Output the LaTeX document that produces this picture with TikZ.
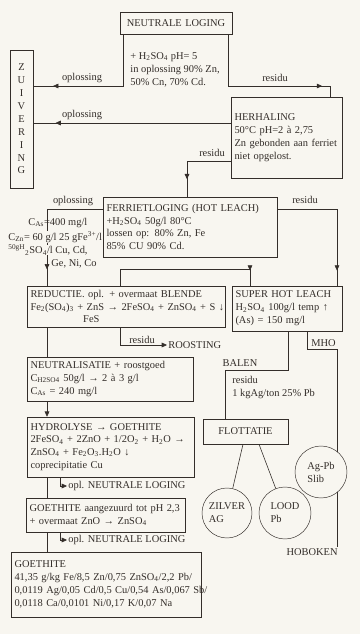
\documentclass[tikz,border=0pt]{standalone}
\usepackage{fontspec}
\setmainfont{Liberation Serif}
\usetikzlibrary{calc,arrows.meta,decorations.markings}
\definecolor{ink}{RGB}{52,46,42}
\definecolor{paper}{RGB}{248,246,240}
\newcommand\dgm{\fontsize{8.9}{11}\selectfont}

\begin{document}
\begin{tikzpicture}[
    x=0.03cm, y=-0.03cm,
    box/.style 2 args={rectangle,draw=ink,text=ink,font=\dgm,
                minimum width=#1*0.03cm,minimum height=#2*0.03cm,
                text width=#1*0.03cm-6pt,inner xsep=3pt,inner ysep=1pt,align=left},
    cbox/.style 2 args={box={#1}{#2},align=center},
    circ/.style={circle,draw=ink,fill=paper,text=ink,font=\dgm,
                minimum size=#1*0.03cm,inner sep=0pt,align=left},
    flow/.style={ink,line width=0.5pt},
    midarr/.style={postaction={decorate},decoration={markings,
                mark=at position #1 with {\arrow{Triangle[length=4.5pt,width=4pt]}}}},
    endarr/.style={-{Triangle[length=4.5pt,width=4pt]}},
    lbl/.style={font=\dgm,text=ink,inner sep=1pt},
  ]
  \fill[paper] (0,0) rectangle (360,634);
  % process boxes
  \node[cbox={112}{22}]  (neut)  at (176,23)      {NEUTRALE LOGING};
  \node[cbox={23}{138}]  (zuiv)  at (21.5,119)    {Z\\U\\I\\V\\E\\R\\I\\N\\G};
  \node[box={111}{81}]   (herh)  at (286.5,137.5) {HERHALING\\50°C pH=2 à 2,75\\\mbox{Zn gebonden aan ferriet}\\niet opgelost.};
  \node[box={174}{60}]   (ferr)  at (190,227)     {\mbox{FERRIETLOGING (HOT LEACH)}\\+H\textsubscript{2}SO\textsubscript{4} 50g/l 80°C\\lossen op: 80\% Zn, Fe\\85\% CU 90\% Cd.};
  \node[box={198}{41}]   (red)   at (126,306.5)   {\mbox{REDUCTIE. opl. + overmaat BLENDE}\\\mbox{Fe\textsubscript{2}(SO\textsubscript{4})\textsubscript{3} + ZnS → 2FeSO\textsubscript{4} + ZnSO\textsubscript{4} + S ↓}\\\hspace*{45pt}FeS};
  \node[box={110}{45}]   (shl)   at (287,308.5)   {\mbox{SUPER HOT LEACH}\\H\textsubscript{2}SO\textsubscript{4} 100g/l temp ↑\\(As) = 150 mg/l};
  \node[box={166}{44}]   (neutr) at (110,379)     {NEUTRALISATIE + roostgoed\\C\textsubscript{H2SO4} 50g/l → 2 à 3 g/l\\C\textsubscript{As} = 240 mg/l};
  \node[box={167}{60}]   (hydr)  at (110.5,447)   {HYDROLYSE → GOETHITE\\\mbox{2FeSO\textsubscript{4} + 2ZnO + 1/2O\textsubscript{2} + H\textsubscript{2}O →}\\ZnSO\textsubscript{4} + Fe\textsubscript{2}O\textsubscript{3}.H\textsubscript{2}O ↓\\coprecipitatie Cu};
  \node[box={159}{34}]   (goe1)  at (105.5,515)   {\mbox{GOETHITE aangezuurd tot pH 2,3}\\+ overmaat ZnO → ZnSO\textsubscript{4}};
  \node[box={190}{65}]   (goe2)  at (106,584.5)   {GOETHITE\\\mbox{41,35 g/kg Fe/8,5 Zn/0,75 ZnSO\textsubscript{4}/2,2 Pb/}\\\mbox{0,0119 Ag/0,05 Cd/0,5 Cu/0,54 As/0,067 Sb/}\\\mbox{0,0118 Ca/0,0101 Ni/0,17 K/0,07 Na}};
  \node[cbox={85}{25}]   (flot)  at (245.5,431.5) {FLOTTATIE};
  \node[circ=50]         (zilv)  at (227,513)     {ZILVER\\AG};
  \node[circ=52]         (lood)  at (285,513)     {LOOD\\Pb};
  % end points
  \node[lbl,anchor=west]       (roost) at (167,345) {ROOSTING};
  \node[lbl,anchor=west]       (opl1)  at (67,486)  {opl. NEUTRALE LOGING};
  \node[lbl,anchor=west]       (opl2)  at (67,540)  {opl. NEUTRALE LOGING};
  \node[lbl,anchor=north east] (hob)   at (339,547) {HOBOKEN};
  % flows
  \draw[flow,midarr=-17pt] ($(neut.south west)+(4,0)$) |- (zuiv.east |- 0,86);
  \draw[flow,midarr=-16pt] ($(neut.south east)+(-4,0)$) |- (330,86) -- (herh.north -| 330,0);
  \draw[flow,midarr=-19pt] (herh.west |- 0,123) -- (zuiv.east |- 0,123);
  \draw[flow,midarr=-15pt] (herh.west |- 0,161) -| (ferr.north -| 187,0);
  \draw[flow,midarr=-14pt] (ferr.west |- 0,209) -| (red.north -| 47,0);
  \draw[flow,midarr=-13pt] (ferr.east |- 0,209) -| (shl.north -| 337,0);
  \draw[flow,midarr=-13pt] (red.north -| 120,0) |- (250,269) -- (shl.north -| 250,0);
  \draw[flow]        (red.south -| 47,0)   -- (neutr.north -| 47,0);
  \draw[flow,endarr] (neutr.south -| 47,0) -- (hydr.north -| 47,0);
  \draw[flow]        (hydr.south -| 47,0)  -- (goe1.north -| 47,0);
  \draw[flow]        (goe1.south -| 47,0)  -- (goe2.north -| 47,0);
  \draw[flow,endarr] (red.south -| 120,0) |- (roost.west);
  \draw[flow,endarr] (hydr.south -| 60,0) |- (opl1.west);
  \draw[flow,endarr] (goe1.south -| 60,0) |- (opl2.west);
  \draw[flow] (shl.south -| 288,0) |- (225,370) -- (flot.north -| 225,0);
  \draw[flow] (shl.south -| 307,0) |- (337,349) -- (hob.north -| 337,0);
  \draw[flow] (flot.south -| 243,0) -- (zilv);
  \draw[flow] (flot.south -| 259,0) -- (lood);
  \node[circ=52] (slib) at (321,472) {Ag-Pb\\Slib};
  % labels
  \node[lbl] (lopl1) at (82,78)  {oplossing};
  \node[lbl,anchor=west,align=left] (lzuur) at (129,70)
        {+ H\textsubscript{2}SO\textsubscript{4} pH= 5\\in oplossing 90\% Zn,\\50\% Cn, 70\% Cd.};
  \node[lbl] (lres1) at (275,78)  {residu};
  \node[lbl] (lopl2) at (82,115)  {oplossing};
  \node[lbl] (lres2) at (212,153) {residu};
  \node[lbl] (lopl3) at (73,201)  {oplossing};
  \node[lbl] (lres3) at (305,200) {residu};
  \node[lbl,anchor=west] (lcas) at (27,223) {C\textsubscript{As}=400 mg/l};
  \node[lbl,anchor=west,fill=paper,inner ysep=0pt] (lczn) at (7,237)
        {C\textsubscript{Zn}= 60 g/l 25 gFe\textsuperscript{3+}/l};
  \node[lbl,anchor=west,fill=paper,inner ysep=0pt] (lzwa) at (7,250)
        {\textsuperscript{50gH}\textsubscript{2}SO\textsubscript{4}/l Cu, Cd,};
  \node[lbl,anchor=west] (lgen) at (50,264) {Ge, Ni, Co};
  \node[lbl] (lres4) at (142,340) {residu};
  \node[lbl] (lbal)  at (240,363) {BALEN};
  \node[lbl,anchor=west,align=left] (lres5) at (231,387.5) {residu\\1 kgAg/ton 25\% Pb};
  \node[lbl] (lmho)  at (323.5,343) {MHO};
\end{tikzpicture}
\end{document}
